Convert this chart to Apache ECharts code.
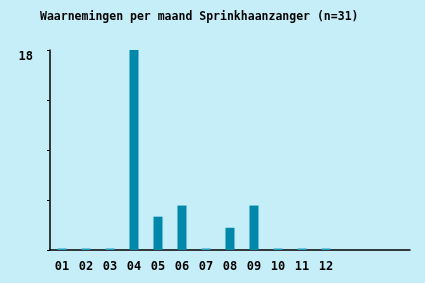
<!DOCTYPE html>
<html><head><meta charset="utf-8">
<script src="https://cdn.jsdelivr.net/npm/echarts@6/dist/echarts.min.js"></script>
<style>html,body{margin:0;padding:0;background:#c6eef8;}#c{width:425px;height:283px;}</style>
</head><body><div id="c"></div>
<script>
const months = ['01','02','03','04','05','06','07','08','09','10','11','12','','',''];
const counts = [0,0,0,18,3,4,0,2,4,0,0,0,null,null,null];
const yMax = 18;
const titleText = 'Waarnemingen per maand Sprinkhaanzanger (n=31)';
const font = 'DejaVu Sans Mono';
const chart = echarts.init(document.getElementById('c'));
chart.setOption({
  backgroundColor: '#c6eef8',
  animation: false,
  title: {text: titleText, left: 35, top: 6,
    textStyle: {fontFamily: font, fontWeight: 'bold', fontSize: 11.5, color: '#000'}},
  grid: {left: 50, right: 15, top: 50, bottom: 33},
  xAxis: {type: 'category', data: months,
    axisLine: {lineStyle: {color: '#000', width: 1.5}},
    axisTick: {alignWithLabel: true, length: 3, lineStyle: {color: '#000'},
      interval: (i) => i < 12},
    axisLabel: {fontFamily: font, fontWeight: 'bold', fontSize: 12, color: '#000', margin: 11, interval: 0}},
  yAxis: {type: 'value', min: 0, max: yMax, interval: 4.5,
    axisLine: {show: true, lineStyle: {color: '#000', width: 1.5}},
    axisTick: {show: true, length: 3, lineStyle: {color: '#000'}},
    splitLine: {show: false},
    axisLabel: {fontFamily: font, fontWeight: 'bold', fontSize: 12, color: '#000', margin: 17,
      verticalAlign: 'top', padding: [1,0,0,0],
      formatter: v => v === yMax ? String(v) : ''}},
  series: [{type: 'bar', data: counts, barWidth: 9, barMinHeight: 1.5,
    itemStyle: {color: p => p.value === 0 ? '#1e9cbf' : '#0088aa'}}]
});
</script></body></html>
